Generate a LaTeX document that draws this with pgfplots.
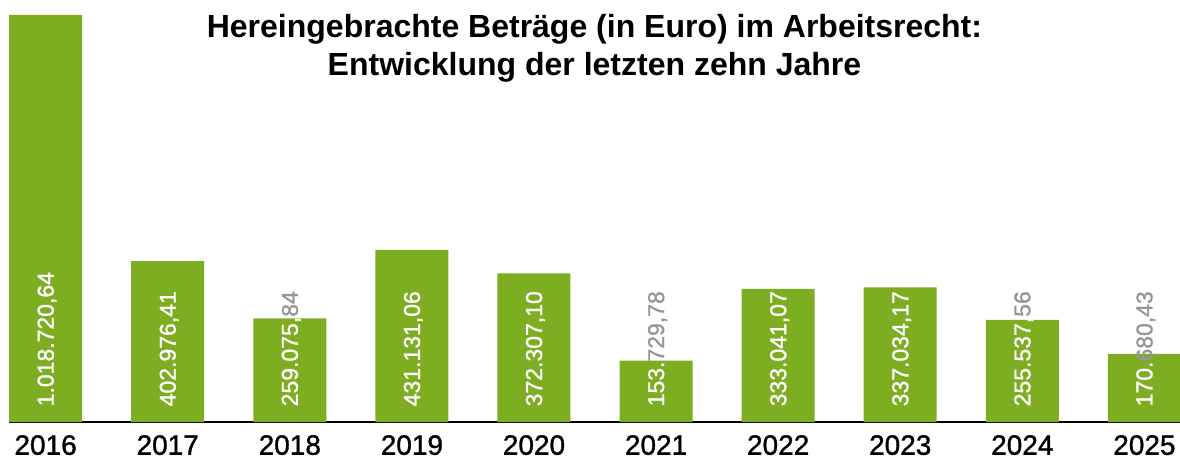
\documentclass[border=0pt]{standalone}
\usepackage{pgfplots}
\pgfplotsset{compat=1.18}
\usepackage{pgfplotstable}
\usepackage{fontspec}
\setmainfont{Liberation Sans}
\newfontfamily\medfont[FakeBold=1.2]{Liberation Sans}
\definecolor{bargreen}{RGB}{125,174,34}
\definecolor{lblgray}{RGB}{150,150,150}
\newcommand{\wg}[2]{\textcolor{white}{#1}\textcolor{lblgray}{#2}}
\newcommand{\cm}{,}

\pgfplotstableread{
x y label
0 1018720.64 {1.018.720\cm64}
1 402976.41 {402.976\cm41}
2 259075.84 {\wg{259.075\cm}{84}}
3 431131.06 {431.131\cm06}
4 372307.10 {372.307\cm10}
5 153729.78 {\wg{153.}{729\cm78}}
6 333041.07 {333.041\cm07}
7 337034.17 {337.034\cm17}
8 255537.56 {\wg{255.537\cm}{56}}
9 170680.43 {\wg{170.}{680\cm43}}
}\datatable

\begin{document}
\begin{tikzpicture}
\useasboundingbox (-9pt,-37pt) rectangle (1171pt,422pt);
\begin{axis}[
  scale only axis, width=1171pt, height=422pt,
  xmin=-0.3, xmax=9.291, ymin=0, ymax=1056266,
  axis x line=bottom, axis y line=none,
  x axis line style={-, line width=2pt, black},
  xtick={0,...,9},
  xticklabels={2016,2017,2018,2019,2020,2021,2022,2023,2024,2025},
  major tick length=0pt,
  xticklabel style={font=\medfont\fontsize{28}{30}\selectfont, anchor=north, inner sep=0pt, yshift=-13pt},
  clip=false,
]
\addplot[ybar, bar width=0.598, bar shift=0pt, fill=bargreen, draw=none] table[x=x,y=y] {\datatable};
\addplot[draw=none, mark=none, nodes near coords, point meta=explicit symbolic,
  every node near coord/.append style={font=\medfont\fontsize{23}{25}\selectfont, text=white, rotate=90, anchor=west, inner xsep=15.5pt, inner ysep=0pt, text depth=0pt}]
  table[x=x, y expr=0, meta=label] {\datatable};
\node[font=\bfseries\fontsize{32}{36}\selectfont, anchor=base] at (rel axis cs:0.5,0.912) {Hereingebrachte Beträge (in Euro) im Arbeitsrecht:};
\node[font=\bfseries\fontsize{32}{36}\selectfont, anchor=base] at (rel axis cs:0.5,0.82) {Entwicklung der letzten zehn Jahre};
\end{axis}
\end{tikzpicture}
\end{document}
